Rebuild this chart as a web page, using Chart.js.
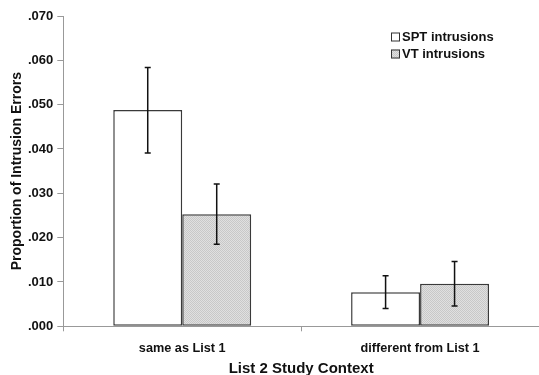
<!DOCTYPE html>
<html>
<head>
<meta charset="utf-8">
<script src="https://cdn.jsdelivr.net/npm/chart.js@4"></script>
<style>
  html, body { margin: 0; padding: 0; background: #fff; }
  #wrap { width: 539px; height: 375px; }
</style>
</head>
<body>
<div id="wrap"><canvas id="myChart"></canvas></div>
<script>
    // Data
    var contexts = ["same as List 1", "different from List 1"];
    var sptMeans = [0.0488, 0.0077];
    var sptLow = [0.0391, 0.0040];
    var sptHigh = [0.0584, 0.0114];
    var vtMeans = [0.0253, 0.0096];
    var vtLow = [0.0185, 0.0046];
    var vtHigh = [0.0321, 0.0146];
    var yTicks = [0, 0.01, 0.02, 0.03, 0.04, 0.05, 0.06, 0.07];

    // stippled grey for the VT bars
    function stipple() {
        var c = document.createElement('canvas');
        c.width = 2; c.height = 2;
        var g = c.getContext('2d');
        g.fillStyle = '#e0e0e0';
        g.fillRect(0, 0, 2, 2);
        g.fillStyle = '#c8c8c8';
        g.fillRect(0, 0, 1, 1);
        g.fillRect(1, 1, 1, 1);
        return g.createPattern(c, 'repeat');
    }

    // Error bars drawn at each bar's x position
    var errorBars = {
        id: 'errorBars',
        afterDatasetsDraw: function(chart) {
            var ctx = chart.ctx;
            var y = chart.scales.y;
            chart.data.datasets.forEach(function(ds, di) {
                var meta = chart.getDatasetMeta(di);
                meta.data.forEach(function(bar, i) {
                    var top = y.getPixelForValue(ds.high[i]);
                    var bot = y.getPixelForValue(ds.low[i]);
                    ctx.save();
                    ctx.strokeStyle = '#111';
                    ctx.lineWidth = 1.5;
                    ctx.beginPath();
                    ctx.moveTo(bar.x, top);
                    ctx.lineTo(bar.x, bot);
                    ctx.moveTo(bar.x - 3, top);
                    ctx.lineTo(bar.x + 3, top);
                    ctx.moveTo(bar.x - 3, bot);
                    ctx.lineTo(bar.x + 3, bot);
                    ctx.stroke();
                    ctx.restore();
                });
            });
        }
    };

    // Legend box in the top right corner of the plot
    var cornerLegend = {
        id: 'cornerLegend',
        afterDraw: function(chart) {
            var ctx = chart.ctx;
            ctx.save();
            ctx.font = 'bold 13px "Liberation Sans", Arial, sans-serif';
            ctx.textBaseline = 'middle';
            chart.data.datasets.forEach(function(ds, di) {
                var yy = 37 + di * 17;
                ctx.fillStyle = ds.backgroundColor;
                ctx.fillRect(391, yy - 4.5, 9, 9);
                ctx.strokeStyle = '#333';
                ctx.lineWidth = 1;
                ctx.strokeRect(391.5, yy - 4, 8, 8);
                ctx.fillStyle = '#111';
                ctx.fillText(ds.label, 402, yy + 0.5);
            });
            ctx.restore();
        }
    };

    const ctx = document.getElementById('myChart');
    new Chart(ctx, {
        type: 'bar',
        data: {
            labels: contexts,
            datasets: [{
                label: 'SPT intrusions',
                data: sptMeans,
                low: sptLow,
                high: sptHigh,
                backgroundColor: '#ffffff',
                borderColor: '#3a3a3a',
                borderWidth: 1.5,
                borderSkipped: false,
            }, {
                label: 'VT intrusions',
                data: vtMeans,
                low: vtLow,
                high: vtHigh,
                backgroundColor: stipple(),
                borderColor: '#3a3a3a',
                borderWidth: 1.5,
                borderSkipped: false,
            }]
        },
        options: {
            responsive: true,
            maintainAspectRatio: false,
            animation: false,
            layout: { padding: { left: 6, top: 16, right: 0, bottom: -2 } },
            datasets: { bar: { categoryPercentage: 0.58, barPercentage: 1.0 } },
            plugins: {
                legend: { display: false },
                tooltip: { enabled: false }
            },
            scales: {
                x: {
                    grid: { display: true, drawOnChartArea: false, offset: true, tickLength: 5, color: '#999' },
                    border: { color: '#999', width: 1 },
                    ticks: {
                        color: '#111',
                        padding: 11,
                        font: { family: '"Liberation Sans", Arial, sans-serif', size: 12.7, weight: 'bold', lineHeight: 1 }
                    },
                    title: {
                        display: true,
                        text: 'List 2 Study Context',
                        color: '#111',
                        padding: { top: -5, bottom: 1 },
                        font: { family: '"Liberation Sans", Arial, sans-serif', size: 15, weight: 'bold', lineHeight: 1 }
                    }
                },
                y: {
                    min: 0,
                    max: 0.07,
                    afterBuildTicks: function(axis) {
                        axis.ticks = yTicks.map(function(v) { return { value: v }; });
                    },
                    grid: { display: true, drawOnChartArea: false, tickLength: 6, color: '#999' },
                    border: { color: '#999', width: 1 },
                    ticks: {
                        color: '#111',
                        padding: 4,
                        font: { family: '"Liberation Sans", Arial, sans-serif', size: 13, weight: 'bold' },
                        callback: function(v) { return v.toFixed(3).replace(/^0/, ''); }
                    },
                    title: {
                        display: true,
                        text: 'Proportion of Intrusion Errors',
                        color: '#111',
                        padding: { top: 4, bottom: 0 },
                        font: { family: '"Liberation Sans", Arial, sans-serif', size: 14, weight: 'bold', lineHeight: 1 }
                    }
                }
            }
        },
        plugins: [errorBars, cornerLegend]
    });
</script>
</body>
</html>
